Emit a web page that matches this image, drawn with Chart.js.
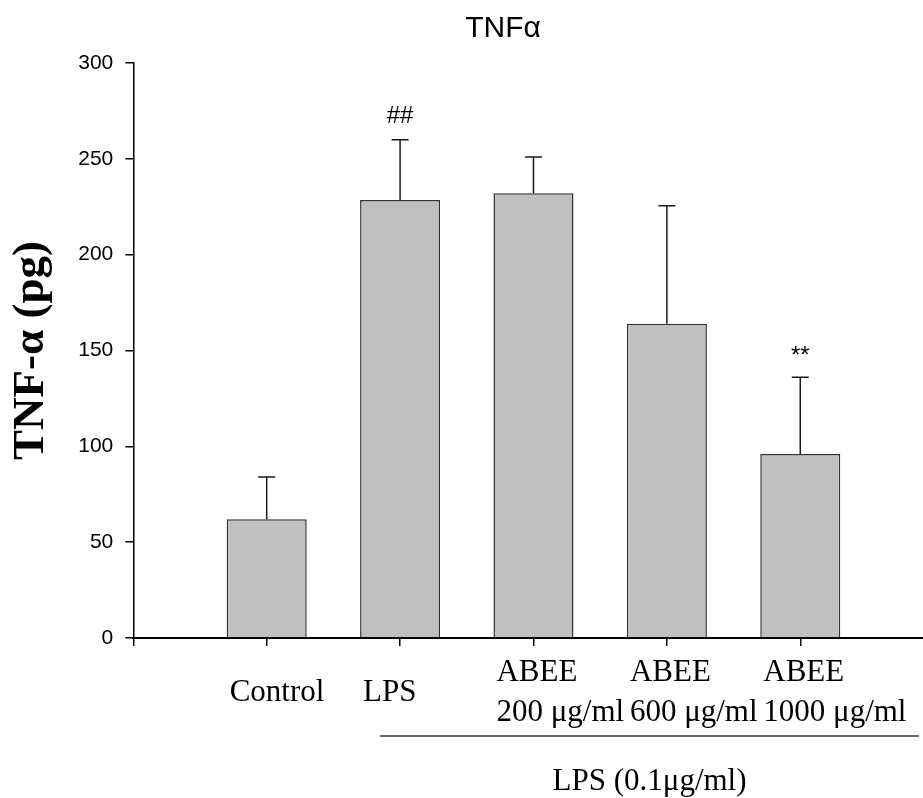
<!DOCTYPE html>
<html>
<head>
<meta charset="utf-8">
<script src="https://cdn.jsdelivr.net/npm/chart.js@4/dist/chart.umd.min.js"></script>
<style>
  html, body { margin: 0; padding: 0; background: #fff; }
  #wrap { width: 923px; height: 798px; }
</style>
</head>
<body>
<div id="wrap"><canvas id="my-chart" width="923" height="798"></canvas></div>
<script>
// data
const groups = [['Control'], ['LPS'], ['ABEE', '200 μg/ml'], ['ABEE', '600 μg/ml'], ['ABEE', '1000 μg/ml']];
const positions = [1, 2, 3, 4, 5];
const tnfMeans = [62, 228.5, 232, 164, 96];
const tnfErrors = [22, 31.5, 19, 61.5, 40];
const marks = ['', '##', '', '', '**'];
const yTicks = [0, 50, 100, 150, 200, 250, 300];
const chartTitle = 'TNFα';
const yTitle = 'TNF-α (pg)';
const groupLabel = 'LPS (0.1μg/ml)';

const extras = {
  id: 'extras',
  afterDatasetsDraw(chart) {
    const ctx = chart.ctx;
    const xs = chart.scales.x;
    const ys = chart.scales.y;
    ctx.save();
    // error bars (upper only)
    ctx.strokeStyle = '#1a1a1a';
    ctx.lineWidth = 1.5;
    tnfMeans.forEach((m, i) => {
      const px = xs.getPixelForValue(positions[i]);
      const top = ys.getPixelForValue(m + tnfErrors[i]);
      ctx.beginPath();
      ctx.moveTo(px, ys.getPixelForValue(m));
      ctx.lineTo(px, top);
      ctx.moveTo(px - 8.5, top);
      ctx.lineTo(px + 8.5, top);
      ctx.stroke();
      if (marks[i]) {
        ctx.fillStyle = '#000';
        ctx.font = '24px "Liberation Sans", Arial, sans-serif';
        ctx.textAlign = 'center';
        ctx.textBaseline = 'alphabetic';
        ctx.fillText(marks[i], px, top - (marks[i] === '**' ? 14 : 17));
      }
    });
    // group bracket line and label
    const y0 = chart.chartArea.bottom;
    ctx.strokeStyle = '#333';
    ctx.lineWidth = 1.5;
    ctx.beginPath();
    ctx.moveTo(xs.getPixelForValue(1.85), y0 + 98);
    ctx.lineTo(xs.getPixelForValue(5.89), y0 + 98);
    ctx.stroke();
    ctx.fillStyle = '#000';
    ctx.font = '31px "Liberation Serif", "Times New Roman", serif';
    ctx.textAlign = 'center';
    ctx.textBaseline = 'alphabetic';
    ctx.fillText(groupLabel, xs.getPixelForValue(3.87), y0 + 152);
    // chart title
    ctx.font = '30px "Liberation Sans", Arial, sans-serif';
    ctx.fillText(chartTitle, 503, 37);
    ctx.restore();
  }
};

const ctx = document.getElementById('my-chart').getContext('2d');
const chart = new Chart(ctx, {
  type: 'bar',
  data: {
    datasets: [{
      data: positions.map((p, i) => ({ x: p, y: tnfMeans[i] })),
      backgroundColor: '#c0c0c0',
      borderColor: '#333333',
      borderWidth: 1.5,
      categoryPercentage: 0.6,
      barPercentage: 1
    }]
  },
  options: {
    responsive: false,
    animation: false,
    layout: { padding: { top: 63, right: 0, bottom: 0, left: 0 } },
    plugins: { legend: { display: false }, tooltip: { enabled: false } },
    scales: {
      x: {
        type: 'linear',
        min: 0,
        max: 5.92,
        offset: false,
        afterBuildTicks: scale => { scale.ticks = [0].concat(positions).map(v => ({ value: v })); },
        afterFit: scale => { scale.height = 160; scale.paddingLeft = 0; scale.paddingRight = 0; },
        grid: { offset: false, drawOnChartArea: false, drawTicks: true, tickLength: 8, color: '#000', lineWidth: 1.5 },
        border: { color: '#000', width: 2 },
        ticks: {
          autoSkip: false,
          maxRotation: 0,
          align: 'start',
          crossAlign: 'center',
          labelOffset: -37,
          padding: 27,
          color: '#000',
          font: { family: '"Liberation Serif", "Times New Roman", serif', size: 31, lineHeight: 1.27 },
          callback: v => (v >= 1 ? groups[v - 1] : '')
        }
      },
      y: {
        min: 0,
        max: 300,
        afterBuildTicks: scale => { scale.ticks = yTicks.map(v => ({ value: v })); },
        afterFit: scale => { scale.width = 133.3; },
        grid: { drawOnChartArea: false, drawTicks: true, tickLength: 8, color: '#000', lineWidth: 1.5 },
        border: { color: '#000', width: 1.5 },
        ticks: {
          padding: 12,
          color: '#000',
          font: { family: '"Liberation Sans", Arial, sans-serif', size: 21 }
        },
        title: {
          display: true,
          text: yTitle,
          color: '#000',
          padding: { top: 4, bottom: 0 },
          font: { family: '"Liberation Serif", "Times New Roman", serif', size: 45, weight: 'bold', lineHeight: 1.2 }
        }
      }
    }
  },
  plugins: [extras]
});
</script>
</body>
</html>
